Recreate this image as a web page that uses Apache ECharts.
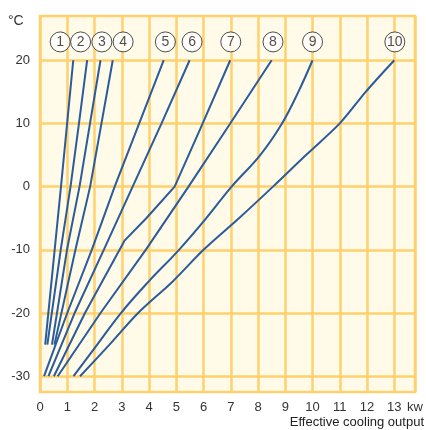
<!DOCTYPE html>
<html><head><meta charset="utf-8">
<script src="https://cdn.jsdelivr.net/npm/echarts@6/dist/echarts.min.js"></script>
<style>html,body{margin:0;padding:0;background:#fff}#c{width:426px;height:430px}</style>
</head><body><div id="c"></div>
<script>
// [kW, °C] pairs
const curve1 = [[1.22,20],[0.77,0],[0.19,-25]];
const curve2 = [[1.73,20],[1.43,10],[1.12,0],[0.76,-10],[0.27,-25]];
const curve3 = [[2.22,20],[1.45,0],[0.99,-10],[0.44,-25]];
const curve4 = [[2.67,20],[1.84,0],[1.30,-10],[0.53,-25]];
const curve5 = [[4.54,20],[3.64,10],[2.74,0],[1.90,-10],[1.00,-20],[0.15,-30]];
const curve6 = [[5.49,20],[4.46,10],[3.40,0],[2.34,-10],[1.27,-20],[0.31,-30]];
const curve7 = [[6.98,20],[5.97,10],[4.94,0],[3.90,-5],[3.11,-8.5],[2.92,-10],[1.65,-20],[0.51,-30]];
const curve8 = [[8.50,20],[6.98,10],[5.45,0],[3.88,-10],[2.22,-20],[0.65,-30]];
const curve9 = [[10.0,20],[9.48,15],[8.88,10],[8.08,5],[7.03,0],[6.1,-5],[5.1,-10],[3.99,-15],[2.97,-20],[2.1,-25],[1.23,-30]];
const curve10 = [[13.0,20],[11.95,15],[11.0,10],[9.76,5],[8.55,0],[7.3,-5],[6.0,-10],[4.87,-15],[3.6,-20],[2.55,-25],[1.47,-30]];

const curves = [curve1,curve2,curve3,curve4,curve5,curve6,curve7,curve8,curve9,curve10];
const smoothFlags = [false,false,false,false,false,false,false,false,0.4,0.3];

const labelNames = ['1','2','3','4','5','6','7','8','9','10'];
const labelKw = [0.74,1.49,2.27,3.05,4.60,5.58,7.0,8.55,10.0,13.02];
const labelTemp = 22.9;

const yTickValues = [20,10,0,-10,-20,-30];
const xMin = 0, xMax = 13.76, yMin = -32.5, yMax = 27;

const FONT = '"Liberation Sans", Arial, sans-serif';
const GRID = '#FFD06E';
const BLUE = '#2A5B9C';

const chart = echarts.init(document.getElementById('c'), null, {renderer:'canvas'});
const series = curves.map((d,i) => ({
  type:'line', data:d, smooth:smoothFlags[i], showSymbol:false, silent:true,
  lineStyle:{color:BLUE, width:2}, z:3
}));
series.push({
  type:'scatter', silent:true, z:5,
  data: labelKw.map((x,i)=>[x,labelTemp,labelNames[i]]),
  symbol:'circle', symbolSize:20,
  itemStyle:{color:'#ffffff', borderColor:'#222', borderWidth:1},
  label:{show:true, position:'inside', formatter:p=>p.value[2], color:'#222', fontSize:14, fontFamily:FONT}
});

chart.setOption({
  animation:false,
  backgroundColor:'#ffffff',
  grid:{left:40, right:11, top:16, bottom:38, show:true, backgroundColor:'#FFFBE8', borderColor:GRID, borderWidth:2.5},
  xAxis:{
    type:'value', min:xMin, max:xMax, interval:1,
    axisLine:{show:false}, axisTick:{show:false},
    splitLine:{show:true, lineStyle:{color:GRID, width:2.5}},
    axisLabel:{margin:9, fontSize:13, color:'#333', fontFamily:FONT,
      formatter:v => v > 13.5 ? 'kw' : String(v)}
  },
  yAxis:{
    type:'value', min:yMin, max:yMax,
    axisLine:{show:false},
    axisTick:{show:false, customValues:yTickValues},
    splitLine:{show:true, lineStyle:{color:GRID, width:2.5}},
    axisLabel:{customValues:yTickValues, margin:10, fontSize:13, color:'#333', fontFamily:FONT}
  },
  graphic:[
    {type:'text', left:8, top:14, style:{text:'°C', font:'14px '+FONT, fill:'#333'}},
    {type:'text', right:2, top:416, style:{text:'Effective cooling output', font:'13px '+FONT, fill:'#222'}}
  ],
  series
});
</script></body></html>
